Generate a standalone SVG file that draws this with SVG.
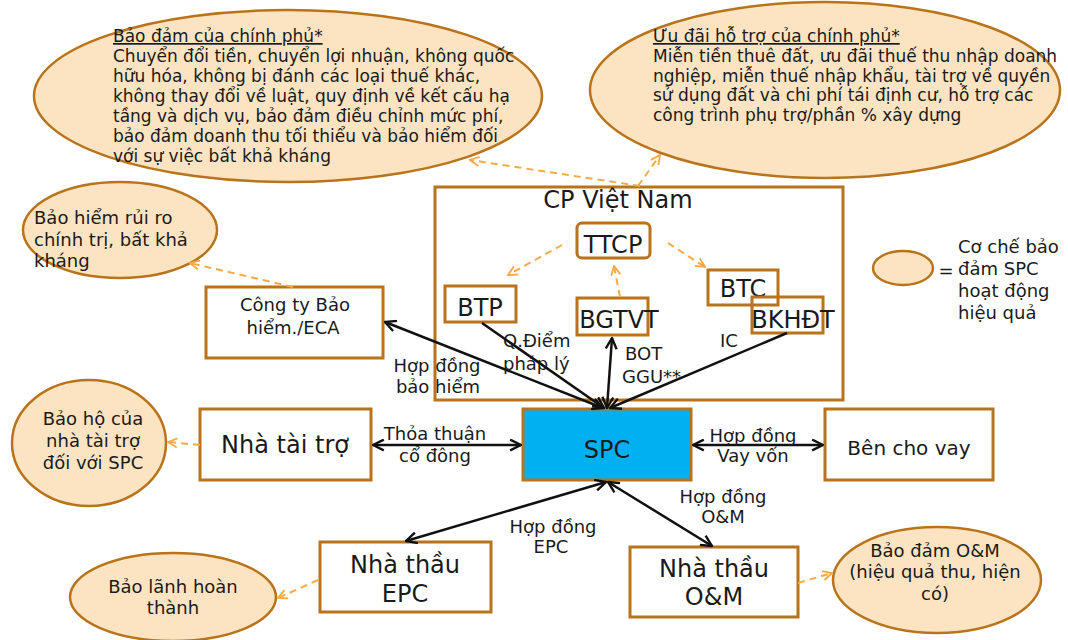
<svg xmlns="http://www.w3.org/2000/svg" width="1068" height="640" viewBox="0 0 1068 640">
  <style>
    text { font-family: "DejaVu Sans", Verdana, sans-serif; fill: #1a1a1a; }
    .ell { fill: #FCE4C2; stroke: #B8731B; stroke-width: 2.5; }
    .box { fill: #FFFFFF; stroke: #B8731B; stroke-width: 3; }
    .inner { fill: none; stroke: #B8731B; stroke-width: 3; }
    .spc { fill: #00B0F0; stroke: #B8731B; stroke-width: 3; }
    .solid { fill: none; stroke: #111; stroke-width: 2.5; }
    .dash { fill: none; stroke: #F7A945; stroke-width: 2; stroke-dasharray: 7 5; }
    .big { font-size: 24px; }
    .mid { font-size: 18px; }
    .body { font-size: 17px; }
    .c { text-anchor: middle; }
  </style>
  <defs>
    <marker id="ah" viewBox="0 0 12 12" refX="11" refY="6" markerWidth="13" markerHeight="13" markerUnits="userSpaceOnUse" orient="auto-start-reverse">
      <path d="M1,1 L11,6 L1,11" fill="none" stroke="#111" stroke-width="2.2"/>
    </marker>
    <marker id="ao" viewBox="0 0 12 12" refX="11" refY="6" markerWidth="11" markerHeight="11" markerUnits="userSpaceOnUse" orient="auto">
      <path d="M1,1 L11,6 L1,11" fill="none" stroke="#F7A945" stroke-width="2"/>
    </marker>
  </defs>
  <rect width="1068" height="640" fill="#FFFFFF"/>

  <!-- government guarantee -->
  <g id="gov-guarantee">
    <ellipse class="ell" cx="288" cy="96" rx="254" ry="86"/>
    <text class="body" x="113" y="42" text-decoration="underline">Bảo đảm của chính phủ*</text>
    <text class="body" x="113" y="62">Chuyển đổi tiền, chuyển lợi nhuận, không quốc</text>
    <text class="body" x="113" y="82">hữu hóa, không bị đánh các loại thuế khác,</text>
    <text class="body" x="113" y="102">không thay đổi về luật, quy định về kết cấu hạ</text>
    <text class="body" x="113" y="122">tầng và dịch vụ, bảo đảm điều chỉnh mức phí,</text>
    <text class="body" x="113" y="142">bảo đảm doanh thu tối thiểu và bảo hiểm đối</text>
    <text class="body" x="113" y="162">với sự việc bất khả kháng</text>
  </g>

  <!-- government incentives -->
  <g id="gov-incentives">
    <ellipse class="ell" cx="825" cy="90" rx="235" ry="88"/>
    <text class="body" x="653" y="42" text-decoration="underline">Ưu đãi hỗ trợ của chính phủ*</text>
    <text class="body" x="653" y="62">Miễn tiền thuê đất, ưu đãi thuế thu nhập doanh</text>
    <text class="body" x="653" y="82">nghiệp, miễn thuế nhập khẩu, tài trợ về quyền</text>
    <text class="body" x="653" y="101">sử dụng đất và chi phí tái định cư, hỗ trợ các</text>
    <text class="body" x="653" y="121">công trình phụ trợ/phần % xây dựng</text>
  </g>

  <g id="political-risk">
    <ellipse class="ell" cx="120" cy="230" rx="97" ry="48"/>
    <text class="mid" x="34" y="224">Bảo hiểm rủi ro</text>
    <text class="mid" x="34" y="246">chính trị, bất khả</text>
    <text class="mid" x="34" y="267">kháng</text>
  </g>

  <g id="legend">
    <ellipse class="ell" cx="903" cy="268" rx="30" ry="17"/>
    <text class="mid" x="946" y="277" text-anchor="middle">=</text>
    <text class="mid" x="958" y="253">Cơ chế bảo</text>
    <text class="mid" x="958" y="275">đảm SPC</text>
    <text class="mid" x="958" y="297">hoạt động</text>
    <text class="mid" x="958" y="319">hiệu quả</text>
  </g>

  <g id="sponsor-protection">
    <ellipse class="ell" cx="89" cy="443" rx="77" ry="63"/>
    <text class="mid c" x="93" y="425">Bảo hộ của</text>
    <text class="mid c" x="93" y="447">nhà tài trợ</text>
    <text class="mid c" x="93" y="469">đối với SPC</text>
  </g>

  <g id="completion-guarantee">
    <ellipse class="ell" cx="173" cy="597" rx="103" ry="44"/>
    <text class="mid c" x="173" y="593">Bảo lãnh hoàn</text>
    <text class="mid c" x="173" y="614">thành</text>
  </g>

  <g id="om-guarantee">
    <ellipse class="ell" cx="937" cy="580" rx="104" ry="53"/>
    <text class="mid c" x="935" y="557">Bảo đảm O&amp;M</text>
    <text class="mid c" x="935" y="578">(hiệu quả thu, hiện</text>
    <text class="mid c" x="935" y="600">có)</text>
  </g>

  <!-- Vietnamese government and ministries -->
  <g id="cp-vietnam">
    <rect class="box" x="435" y="187" width="408" height="213"/>
    <text class="big c" x="618" y="208">CP Việt Nam</text>
  </g>
  <g id="ttcp">
    <rect class="inner" x="577" y="223" width="73" height="35" rx="5"/>
    <text class="big c" x="613" y="253">TTCP</text>
  </g>
  <g id="btp">
    <rect class="inner" x="445" y="286" width="71" height="36"/>
    <text class="big c" x="480" y="316">BTP</text>
  </g>
  <g id="bgtvt">
    <rect class="inner" x="577" y="298" width="71" height="37"/>
    <text class="big c" x="619" y="328">BGTVT</text>
  </g>
  <g id="btc">
    <rect class="inner" x="708" y="270" width="70" height="35"/>
    <text class="big c" x="743" y="297">BTC</text>
  </g>
  <g id="bkhdt">
    <rect class="inner" x="752" y="297" width="71" height="36"/>
    <text class="big c" x="793" y="328">BKHĐT</text>
  </g>

  <g id="insurer">
    <rect class="box" x="206" y="287" width="177" height="71"/>
    <text class="mid c" x="295" y="311">Công ty Bảo</text>
    <text class="mid c" x="293" y="334">hiểm./ECA</text>
  </g>
  <g id="sponsor">
    <rect class="box" x="200" y="409" width="171" height="71"/>
    <text class="big c" x="285" y="453">Nhà tài trợ</text>
  </g>
  <g id="spc">
    <rect class="spc" x="523" y="409" width="168" height="71"/>
    <text class="big c" x="607" y="458">SPC</text>
  </g>
  <g id="lender">
    <rect class="box" x="825" y="409" width="168" height="71"/>
    <text class="mid c" x="909" y="455" style="font-size:20px">Bên cho vay</text>
  </g>
  <g id="epc">
    <rect class="box" x="320" y="542" width="171" height="70"/>
    <text class="big c" x="405" y="573">Nhà thầu</text>
    <text class="big c" x="405" y="602">EPC</text>
  </g>
  <g id="om">
    <rect class="box" x="630" y="547" width="168" height="70"/>
    <text class="big c" x="714" y="577">Nhà thầu</text>
    <text class="big c" x="714" y="605">O&amp;M</text>
  </g>

  <!-- connectors -->
  <g id="connectors">
    <line class="solid" x1="385" y1="322" x2="603" y2="408" marker-start="url(#ah)" marker-end="url(#ah)"/>
    <line class="solid" x1="482" y1="323" x2="604" y2="408" marker-end="url(#ah)"/>
    <line class="solid" x1="612" y1="338" x2="607" y2="408" marker-start="url(#ah)" marker-end="url(#ah)"/>
    <line class="solid" x1="787" y1="333" x2="610" y2="408" marker-end="url(#ah)"/>
    <line class="solid" x1="373" y1="445" x2="521" y2="445" marker-start="url(#ah)" marker-end="url(#ah)"/>
    <line class="solid" x1="693" y1="445" x2="823" y2="445" marker-start="url(#ah)" marker-end="url(#ah)"/>
    <line class="solid" x1="606" y1="482" x2="406" y2="541" marker-start="url(#ah)" marker-end="url(#ah)"/>
    <line class="solid" x1="608" y1="482" x2="712" y2="546" marker-start="url(#ah)" marker-end="url(#ah)"/>

    <line class="dash" x1="640" y1="186" x2="470" y2="160" marker-end="url(#ao)"/>
    <line class="dash" x1="638" y1="186" x2="660" y2="155" marker-end="url(#ao)"/>
    <line class="dash" x1="562" y1="245" x2="508" y2="275" marker-end="url(#ao)"/>
    <line class="dash" x1="668" y1="243" x2="705" y2="267" marker-end="url(#ao)"/>
    <line class="dash" x1="620" y1="297" x2="614" y2="266" marker-end="url(#ao)"/>
    <line class="dash" x1="293" y1="287" x2="190" y2="263" marker-end="url(#ao)"/>
    <line class="dash" x1="200" y1="445" x2="168" y2="442" marker-end="url(#ao)"/>
    <line class="dash" x1="318" y1="580" x2="278" y2="598" marker-end="url(#ao)"/>
    <line class="dash" x1="798" y1="583" x2="832" y2="573" marker-end="url(#ao)"/>

    <text class="mid c" x="437" y="372">Hợp đồng</text>
    <text class="mid c" x="438" y="393">bảo hiểm</text>
    <text class="mid" x="503" y="347">Q.Điểm</text>
    <text class="mid" x="503" y="370">pháp lý</text>
    <text class="mid" x="625" y="360">BOT</text>
    <text class="mid" x="622" y="383">GGU**</text>
    <text class="mid" x="720" y="347">IC</text>
    <text class="mid c" x="435" y="440">Thỏa thuận</text>
    <text class="mid c" x="435" y="462">cổ đông</text>
    <text class="mid c" x="753" y="442">Hợp đồng</text>
    <text class="mid c" x="753" y="462">Vay vốn</text>
    <text class="mid c" x="553" y="533">Hợp đồng</text>
    <text class="mid c" x="551" y="553">EPC</text>
    <text class="mid c" x="723" y="503">Hợp đồng</text>
    <text class="mid c" x="723" y="523">O&amp;M</text>
  </g>
</svg>
